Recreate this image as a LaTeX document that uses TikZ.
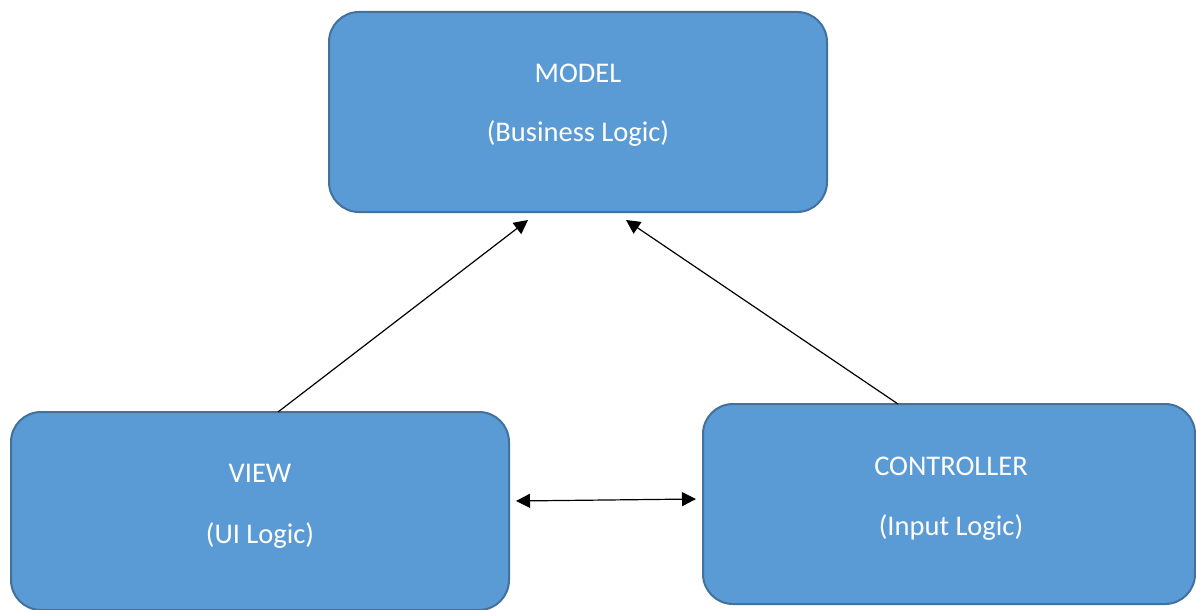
\documentclass[tikz,border=0pt]{standalone}
\usepackage{fontspec}
\setmainfont{Carlito}
\usetikzlibrary{arrows.meta}
\definecolor{boxfill}{HTML}{5B9BD5}
\definecolor{boxedge}{HTML}{41719C}
\tikzset{
  mvcbox/.style={draw=boxedge, fill=boxfill, line width=2pt, rounded corners=30pt,
    rectangle, inner sep=0pt, outer sep=0pt},
  lbl/.style={text=white, font=\fontsize{28.5}{34}\selectfont, inner sep=0pt, anchor=base},
  conn/.style={line width=1.2pt, draw=black, -{Triangle[length=14pt,width=14pt]}},
  dconn/.style={line width=1.2pt, draw=black, {Triangle[length=14pt,width=14pt]}-{Triangle[length=14pt,width=14pt]}}
}
\begin{document}
\begin{tikzpicture}[x=1pt,y=-1pt]
\useasboundingbox (0,0) rectangle (1196,610);
\fill[white] (0,0) rectangle (1196,610);
% boxes
\node[mvcbox, minimum width=498pt, minimum height=200pt] (model) at (578,112) {};
\node[mvcbox, minimum width=498pt, minimum height=198pt] (view) at (260,511) {};
\node[mvcbox, minimum width=492pt, minimum height=200pt] (ctrl) at (949,504) {};
% labels
\node[lbl] (m1) at (578,82) {MODEL};
\node[lbl] (m2) at (578,141) {(Business Logic)};
\node[lbl] (v1) at (260,482) {VIEW};
\node[lbl] (v2) at (260,543) {(UI Logic)};
\node[lbl] (c1) at (951,475) {CONTROLLER};
\node[lbl] (c2) at (951,535) {(Input Logic)};
% connector end points
\coordinate (vtop) at (view.north -| 278,0);
\coordinate (ctop) at (ctrl.north -| 898,0);
\coordinate (mleft) at (528,220);
\coordinate (mright) at (626,220);
\coordinate (vright) at (516,501);
\coordinate (cleft) at (696,499);
\draw[conn] (vtop) -- (mleft);
\draw[conn] (ctop) -- (mright);
\draw[dconn] (vright) -- (cleft);
\end{tikzpicture}
\end{document}
